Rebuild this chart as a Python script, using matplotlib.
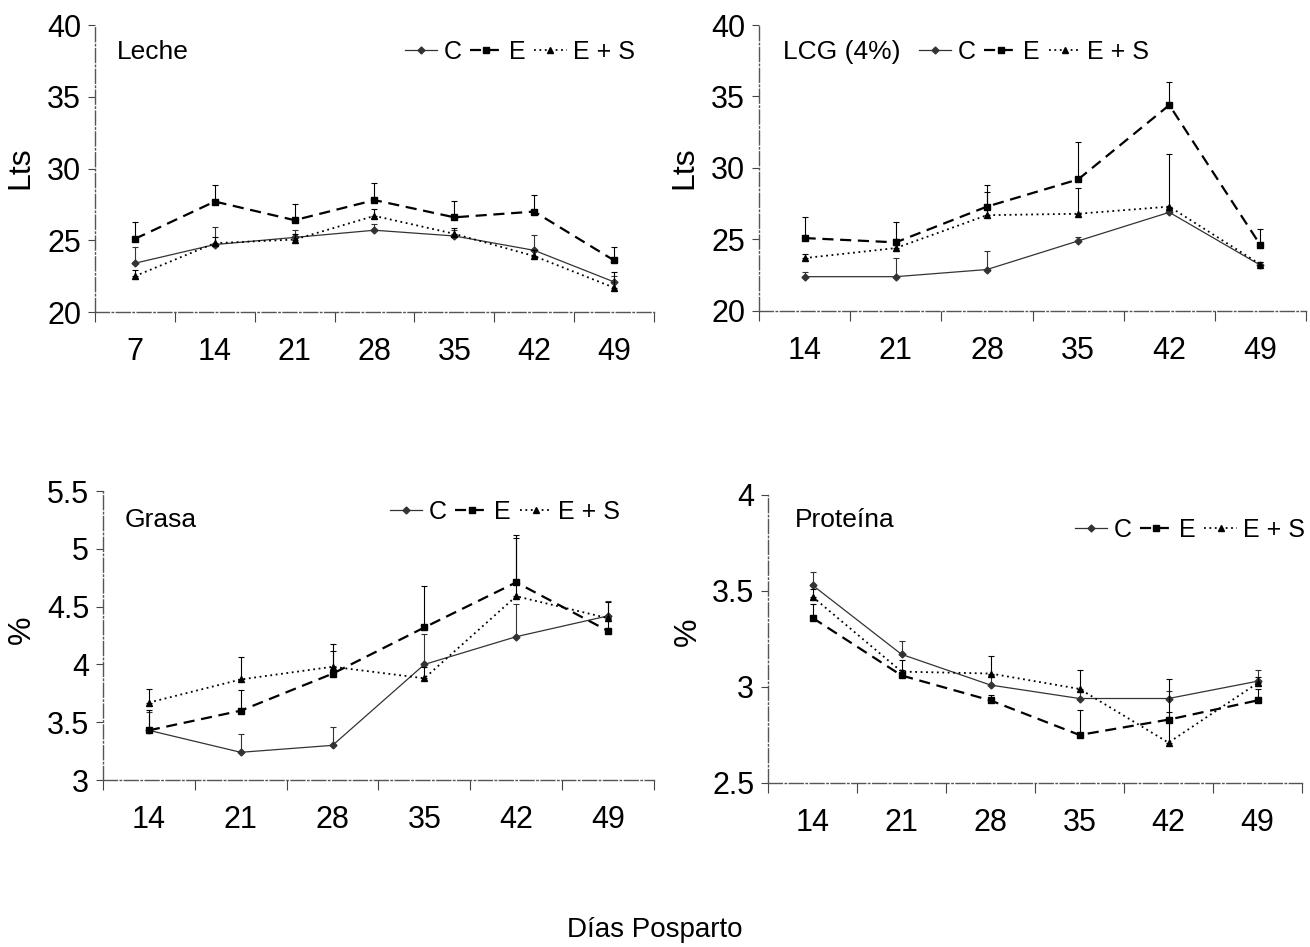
import matplotlib
matplotlib.use("Agg")
import matplotlib.pyplot as plt
from matplotlib.ticker import FixedLocator, FuncFormatter
import numpy as np

plt.rcParams['font.family'] = ['Liberation Sans', 'DejaVu Sans']

# ---------------- data ----------------
days_leche = ["7", "14", "21", "28", "35", "42", "49"]
leche_C = [23.4, 24.7, 25.2, 25.7, 25.3, 24.3, 22.1]
leche_E = [25.1, 27.7, 26.4, 27.8, 26.6, 27.0, 23.6]
leche_ES = [22.5, 24.8, 25.05, 26.7, 25.45, 23.9, 21.7]
leche_C_err = [1.1, 1.2, 0.5, 0.4, 0.4, 1.1, 0.4]
leche_E_err = [1.2, 1.15, 1.15, 1.2, 1.15, 1.15, 0.95]
leche_ES_err = [0.4, 0.4, 0.4, 0.5, 0.4, 0.4, 1.1]

days = ["14", "21", "28", "35", "42", "49"]
lcg_C = [22.4, 22.4, 22.9, 24.9, 26.9, 23.2]
lcg_E = [25.1, 24.8, 27.3, 29.2, 34.4, 24.6]
lcg_ES = [23.7, 24.4, 26.7, 26.8, 27.3, 23.25]
lcg_C_err = [0.3, 1.3, 1.3, 0.3, 0.3, 0.2]
lcg_E_err = [1.5, 1.4, 1.5, 2.6, 1.6, 1.1]
lcg_ES_err = [0.3, 0.6, 1.6, 1.8, 3.7, 0.2]

grasa_C = [3.43, 3.24, 3.30, 4.00, 4.24, 4.42]
grasa_E = [3.43, 3.60, 3.92, 4.32, 4.71, 4.29]
grasa_ES = [3.67, 3.87, 3.98, 3.88, 4.59, 4.40]
grasa_C_err = [0.16, 0.16, 0.16, 0.26, 0.28, 0.13]
grasa_E_err = [0.18, 0.18, 0.20, 0.36, 0.41, 0.10]
grasa_ES_err = [0.12, 0.19, 0.20, 0.10, 0.50, 0.14]

prot_C = [3.53, 3.17, 3.01, 2.94, 2.94, 3.03]
prot_E = [3.36, 3.06, 2.93, 2.75, 2.83, 2.93]
prot_ES = [3.47, 3.08, 3.07, 2.99, 2.71, 3.02]
prot_C_err = [0.07, 0.07, 0.05, 0.04, 0.04, 0.06]
prot_E_err = [0.07, 0.03, 0.03, 0.13, 0.04, 0.06]
prot_ES_err = [0.04, 0.06, 0.09, 0.10, 0.33, 0.03]

series_labels = ["C", "E", "E + S"]

W, H = 1310, 947

panels = [
    dict(rect=[0.0725, 0.6705, 0.4267, 0.3031], cats=days_leche,
         vals=[leche_C, leche_E, leche_ES], errs=[leche_C_err, leche_E_err, leche_ES_err],
         ylim=(20, 40), yticks=[20, 25, 30, 35, 40], ylabel="Lts", title="Leche",
         title_xy=(0.04, 0.906), leg_xy=(0.76, 0.906), ylab_px=(20, 168)),
    dict(rect=[0.5794, 0.6716, 0.4176, 0.3020], cats=days,
         vals=[lcg_C, lcg_E, lcg_ES], errs=[lcg_C_err, lcg_E_err, lcg_ES_err],
         ylim=(20, 40), yticks=[20, 25, 30, 35, 40], ylabel="Lts", title="LCG (4%)",
         title_xy=(0.044, 0.905), leg_xy=(0.503, 0.905), ylab_px=(684, 168)),
    dict(rect=[0.0786, 0.1763, 0.4206, 0.3052], cats=days,
         vals=[grasa_C, grasa_E, grasa_ES], errs=[grasa_C_err, grasa_E_err, grasa_ES_err],
         ylim=(3, 5.5), yticks=[3, 3.5, 4, 4.5, 5, 5.5], ylabel="%", title="Grasa",
         title_xy=(0.04, 0.90), leg_xy=(0.73, 0.927), ylab_px=(22, 630)),
    dict(rect=[0.5863, 0.1732, 0.4076, 0.3041], cats=days,
         vals=[prot_C, prot_E, prot_ES], errs=[prot_C_err, prot_E_err, prot_ES_err],
         ylim=(2.5, 4), yticks=[2.5, 3, 3.5, 4], ylabel="%", title="Proteína",
         title_xy=(0.05, 0.913), leg_xy=(0.79, 0.878), ylab_px=(688, 632)),
]

styles = [
    dict(color='#333333', lw=0.9, ls='-', marker='D', ms=3.5),
    dict(color='black', lw=1.6, ls=(0, (5, 3)), marker='s', ms=4.5),
    dict(color='black', lw=1.3, ls=(0, (1, 2)), marker='^', ms=4.5),
]

fig = plt.figure(figsize=(13.1, 9.47), dpi=100)

for p in panels:
    ax = fig.add_axes(p['rect'])
    n = len(p['cats'])
    x = np.arange(n)
    handles = []
    for vals, errs, st, lab in zip(p['vals'], p['errs'], styles, series_labels):
        ax.errorbar(x, vals, yerr=[np.zeros(n), errs], fmt='none', ecolor=st['color'],
                    elinewidth=0.8, capsize=2, capthick=0.8)
        h, = ax.plot(x, vals, color=st['color'], lw=st['lw'], ls=st['ls'],
                     marker=st['marker'], ms=st['ms'], mfc=st['color'], mec=st['color'],
                     label=lab)
        handles.append(h)
    ax.set_xlim(-0.5, n - 0.5)
    ax.set_ylim(*p['ylim'])
    ax.set_xticks(x)
    ax.set_xticklabels(p['cats'], fontsize=22)
    ax.xaxis.set_minor_locator(FixedLocator(np.arange(-0.5, n, 1.0)))
    ax.tick_params(axis='x', which='major', length=0, pad=18)
    ax.tick_params(axis='x', which='minor', length=7, width=0.8, color='#444444', direction='out')
    ax.set_yticks(p['yticks'])
    ax.yaxis.set_major_formatter(FuncFormatter(lambda v, pos: f"{v:g}"))
    ax.tick_params(axis='y', which='major', length=5, width=0.8, color='#444444', labelsize=22, pad=5)
    for s in ['top', 'right']:
        ax.spines[s].set_visible(False)
    for s in ['left', 'bottom']:
        ax.spines[s].set_color('#555555')
        ax.spines[s].set_linewidth(1.0)
        ax.spines[s].set_linestyle((0, (10, 2, 1, 2)))
    fig.text(p['ylab_px'][0] / W, 1 - p['ylab_px'][1] / H, p['ylabel'], fontsize=23,
             rotation=90, ha='center', va='center')
    ax.text(p['title_xy'][0], p['title_xy'][1], p['title'], transform=ax.transAxes,
            fontsize=19, ha='left', va='center')
    ax.legend(handles=handles, loc='center', bbox_to_anchor=p['leg_xy'], ncol=3,
              frameon=False, fontsize=18, handlelength=1.3, handletextpad=0.25,
              columnspacing=0.35, borderpad=0, borderaxespad=0)

fig.text(0.5, 0.018, "Días Posparto", ha='center', va='center', fontsize=20)

fig.savefig("out.png", dpi=100)
